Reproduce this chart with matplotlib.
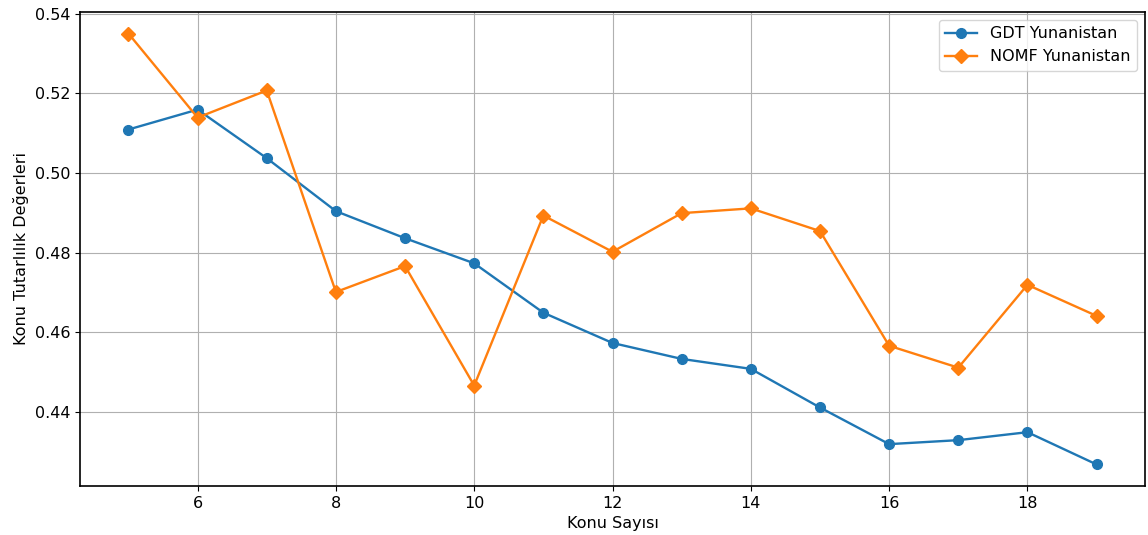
import matplotlib
matplotlib.use("Agg")
import matplotlib.pyplot as plt

topics = [5, 6, 7, 8, 9, 10, 11, 12, 13, 14, 15, 16, 17, 18, 19]
gdt = [0.5109, 0.5159, 0.5037, 0.4904, 0.4836, 0.4773, 0.4649, 0.4573, 0.4533, 0.4508,
       0.4411, 0.4319, 0.4329, 0.4349, 0.4268]
nomf = [0.5350, 0.5139, 0.5207, 0.4701, 0.4766, 0.4466, 0.4893, 0.4802, 0.4899, 0.4911,
        0.4854, 0.4566, 0.4511, 0.4719, 0.4641]

plt.rcParams['font.size'] = 11.5
fig = plt.figure(figsize=(11.48, 5.35), dpi=100)
ax = fig.add_axes([0.0697, 0.0916, 0.9277, 0.886])
ax.plot(topics, gdt, marker='o', color='#1f77b4', label='GDT Yunanistan', lw=1.7, ms=7)
ax.plot(topics, nomf, marker='D', color='#ff7f0e', label='NOMF Yunanistan', lw=1.7, ms=7)
ax.set_xticks([6, 8, 10, 12, 14, 16, 18])
ax.set_yticks([0.44, 0.46, 0.48, 0.50, 0.52, 0.54])
ax.grid(True)
for s in ax.spines.values():
    s.set_linewidth(1.2)
ax.set_xlabel('Konu Sayısı')
ax.set_ylabel('Konu Tutarlılık Değerleri')
ax.legend(loc='upper right')
fig.savefig('out.png', dpi=100)
